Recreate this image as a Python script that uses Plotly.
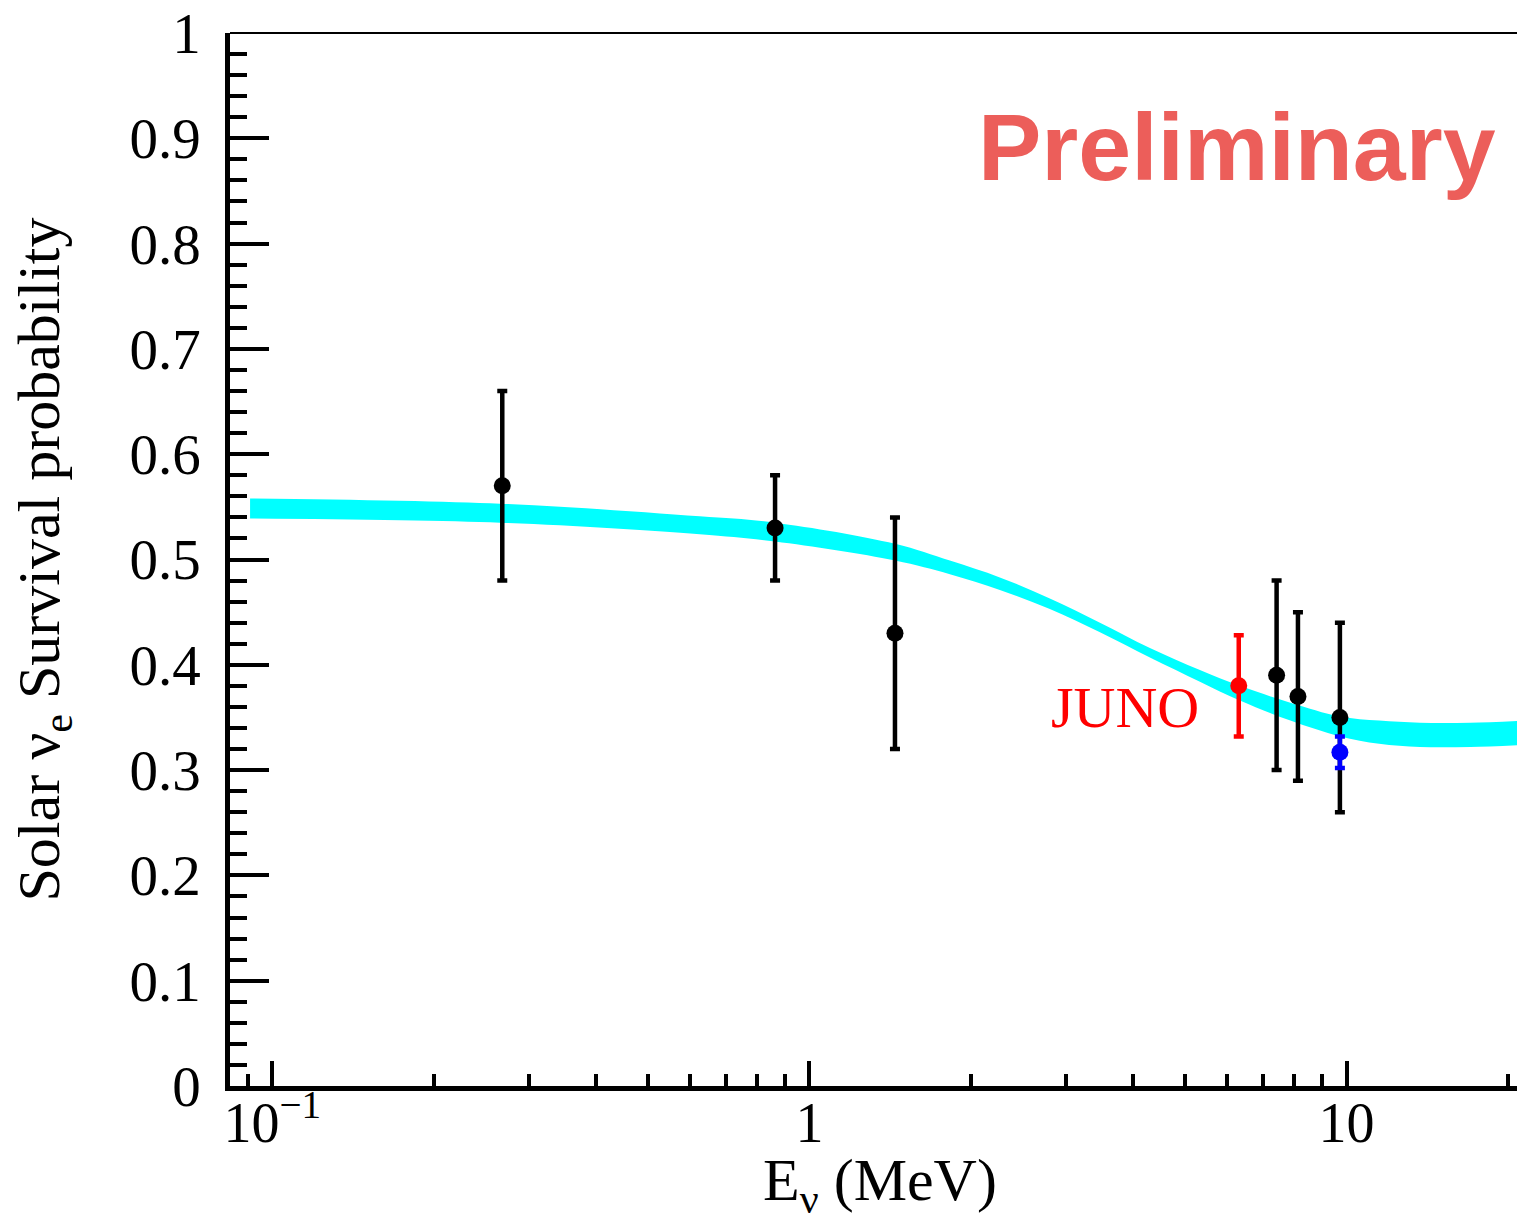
import plotly.graph_objects as go

# ---- data ----
band_E = [0.0909, 0.2655, 0.625, 0.863, 1.443, 1.826, 2.262, 2.803, 3.475, 4.305,
          5.334, 6.33, 7.86, 9.72, 11.5, 13.7, 17.0, 21.5]
band_lo = [0.539, 0.535, 0.524, 0.517, 0.499, 0.486, 0.471, 0.453, 0.431, 0.407,
           0.384, 0.366, 0.347, 0.332, 0.325, 0.322, 0.322, 0.324]
band_hi = [0.558, 0.553, 0.541, 0.535, 0.515, 0.499, 0.483, 0.463, 0.440, 0.416,
           0.395, 0.380, 0.364, 0.351, 0.347, 0.345, 0.345, 0.347]

data_E = [0.268, 0.863, 1.443, 7.41, 8.12, 9.72]
data_P = [0.57, 0.53, 0.43, 0.39, 0.37, 0.35]
data_err = [0.09, 0.05, 0.11, 0.09, 0.08, 0.09]

juno_E = [6.30]
juno_P = [0.38]
juno_err = [0.048]

blue_E = [9.72]
blue_P = [0.317]
blue_err = [0.015]

x_major = [0.1, 1, 10]
x_major_labels = ["10<sup>\u22121</sup>", "1", "10"]
x_minor = [0.09, 0.2, 0.3, 0.4, 0.5, 0.6, 0.7, 0.8, 0.9,
           2, 3, 4, 5, 6, 7, 8, 9, 20, 30]
y_major = [0, 0.1, 0.2, 0.3, 0.4, 0.5, 0.6, 0.7, 0.8, 0.9, 1]
y_major_labels = ["0", "0.1", "0.2", "0.3", "0.4", "0.5", "0.6", "0.7", "0.8", "0.9", "1"]

SERIF = "Liberation Serif, Times New Roman, serif"

fig = go.Figure()

fig.add_trace(go.Scatter(x=band_E, y=band_lo, mode="lines", line=dict(color="#00FFFF", width=0, shape="spline"),
                         showlegend=False, hoverinfo="skip"))
fig.add_trace(go.Scatter(x=band_E, y=band_hi, mode="lines", line=dict(color="#00FFFF", width=0, shape="spline"),
                         fill="tonexty", fillcolor="#00FFFF", showlegend=False, hoverinfo="skip"))

fig.add_trace(go.Scatter(x=juno_E, y=juno_P, mode="markers",
                         marker=dict(color="#FF0000", size=17),
                         error_y=dict(type="data", array=juno_err, color="#FF0000", thickness=4.5, width=5),
                         showlegend=False))
fig.add_trace(go.Scatter(x=data_E, y=data_P, mode="markers",
                         marker=dict(color="black", size=17),
                         error_y=dict(type="data", array=data_err, color="black", thickness=4.5, width=5),
                         showlegend=False))
fig.add_trace(go.Scatter(x=blue_E, y=blue_P, mode="markers",
                         marker=dict(color="#0000FF", size=17),
                         error_y=dict(type="data", array=blue_err, color="#0000FF", thickness=4.5, width=5),
                         showlegend=False))

fig.update_layout(
    width=1517, height=1214,
    margin=dict(l=230, r=0, t=33, b=128, pad=0),
    plot_bgcolor="white", paper_bgcolor="white",
    font=dict(family=SERIF, color="black"),
    xaxis=dict(
        type="log", range=[-1.0788, 1.3174], automargin=False,
        showline=True, linewidth=4.5, linecolor="black",
        showgrid=False, zeroline=False,
        ticks="inside", tickvals=x_major, ticktext=x_major_labels,
        ticklen=25, tickwidth=4, tickcolor="black",
        minor=dict(tickvals=x_minor, ticks="inside", ticklen=12, tickwidth=4, tickcolor="black", showgrid=False),
        tickfont=dict(family=SERIF, size=56, color="black"),
        ticklabelstandoff=-16,
    ),
    yaxis=dict(
        range=[0, 1], automargin=False,
        showline=True, linewidth=4.5, linecolor="black",
        showgrid=False, zeroline=False,
        ticks="inside", tickvals=y_major, ticktext=y_major_labels,
        ticklen=39, tickwidth=4, tickcolor="black",
        minor=dict(dtick=0.02, tick0=0, ticks="inside", ticklen=17, tickwidth=4, tickcolor="black", showgrid=False),
        tickfont=dict(family=SERIF, size=57, color="black"),
        ticklabelstandoff=13,
        title=dict(text="Solar \u03bd<sub>e</sub> Survival probability", font=dict(family=SERIF, size=60, color="black"), standoff=52),
    ),
    shapes=[dict(type="line", xref="paper", yref="paper", x0=0, x1=1, y0=1, y1=1,
                 line=dict(color="black", width=2))],
    annotations=[
        dict(text="E<sub>\u03bd</sub> (MeV)", xref="paper", yref="paper", x=0.505, y=-0.094,
             xanchor="center", yanchor="middle", showarrow=False,
             font=dict(family=SERIF, size=60, color="black")),
        dict(text="<b>Preliminary</b>", xref="paper", yref="paper", x=0.7825, y=0.892,
             xanchor="center", yanchor="middle", showarrow=False,
             font=dict(family="Liberation Sans, Arial, sans-serif", size=95, color="#EC5E5A")),
        dict(text="JUNO", xref="paper", yref="paper", x=0.6954, y=0.359,
             xanchor="center", yanchor="middle", showarrow=False,
             font=dict(family=SERIF, size=58, color="#FF0000")),
    ],
)

fig.write_html("out.html", config={"displayModeBar": False},
               post_script="document.body.style.margin='0';document.body.style.padding='0';document.body.style.overflow='hidden';")
